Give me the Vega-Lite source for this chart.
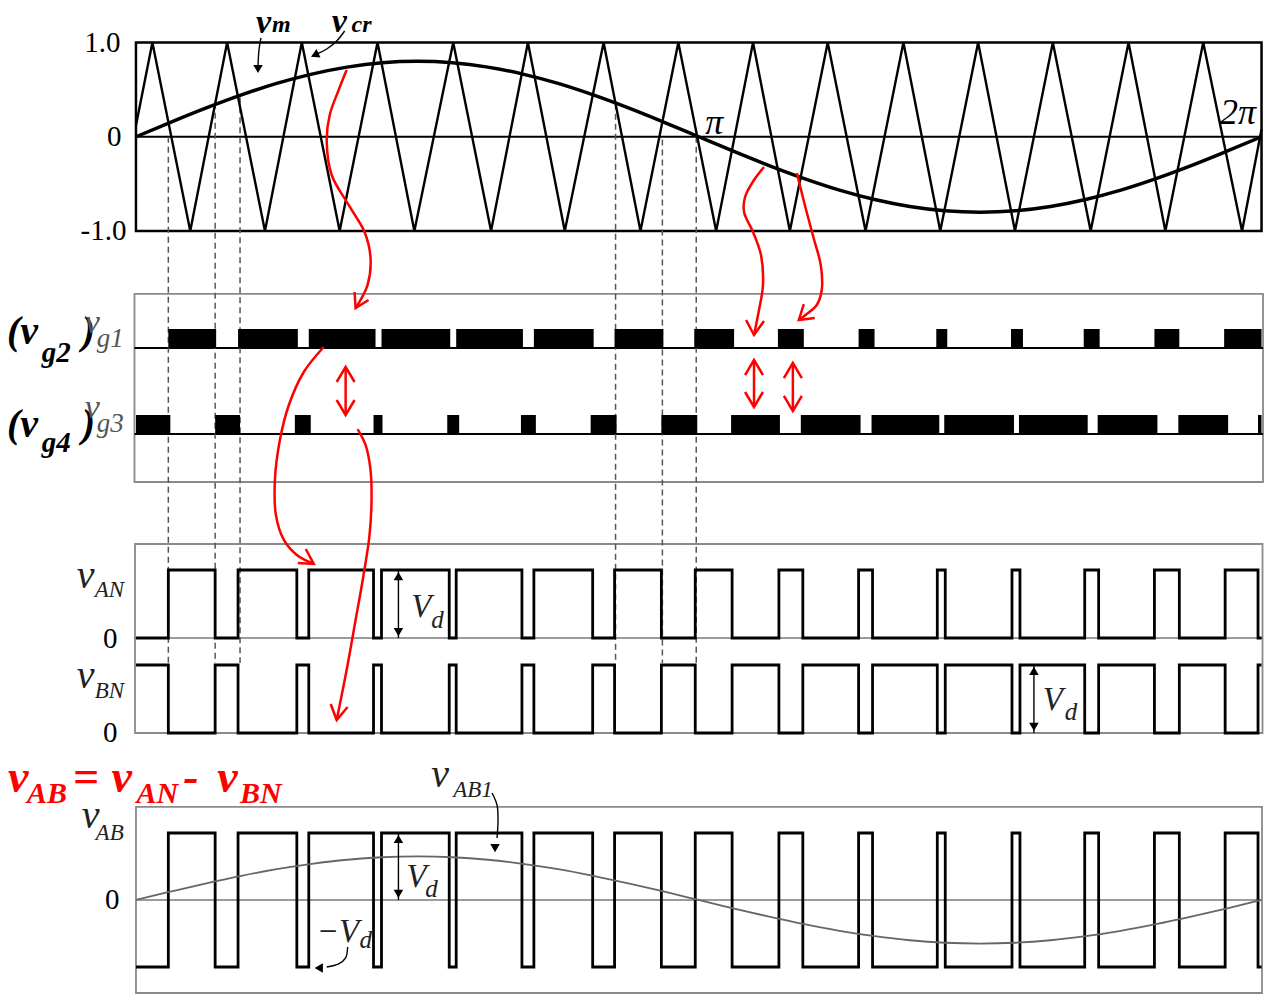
{
 "$schema": "https://vega.github.io/schema/vega-lite/v6.json",
 "width": 1269, "height": 995,
 "autosize": {"type": "fit", "contains": "padding"},
 "padding": 0,
 "background": "white",
 "config": {"view": {"stroke": null}, "text": {"font": "Liberation Serif, Times New Roman, serif"}},
 "resolve": {"scale": {"y": "independent"}},
 "datasets": {
  "frameTop": [{"t0": 0, "t1": 6.2832, "y0": -1, "y1": 1}],
  "frames": [
   {"t0": -0.0083, "t1": 6.2915, "y0": -1.668, "y1": -3.663},
   {"t0": -0.0055, "t1": 6.2887, "y0": -4.321, "y1": -6.326},
   {"t0": 0.0, "t1": 6.286, "y0": -7.111, "y1": -9.085}
  ],
  "rulesBlack": [
   {"t0": 0, "t1": 6.2832, "y": 0},
   {"t0": -0.0083, "t1": 6.2915, "y": -2.241},
   {"t0": -0.0083, "t1": 6.2915, "y": -3.154}
  ],
  "rulesGray": [
   {"t0": -0.0083, "t1": 6.2915, "y": -5.318},
   {"t0": 0, "t1": 6.2832, "y": -8.098}
  ],
  "dashed": [
   {"t": 0.1807, "y0": 0.0, "y1": -5.584},
   {"t": 0.442, "y0": 0.36, "y1": -5.584},
   {"t": 0.581, "y0": 0.42, "y1": -5.584},
   {"t": 2.6773, "y0": 0.35, "y1": -5.584},
   {"t": 2.9386, "y0": -0.03, "y1": -5.584},
   {"t": 3.1276, "y0": 0.0, "y1": -5.584}
  ],
  "carrier": [
   {"t": 0, "v": 0.12}, {"t": 0.0917, "v": 1}, {"t": 0.303, "v": -1}, {"t": 0.5088, "v": 1}, {"t": 0.7201, "v": -1},
   {"t": 0.9258, "v": 1}, {"t": 1.1371, "v": -1}, {"t": 1.3484, "v": 1}, {"t": 1.5541, "v": -1}, {"t": 1.771, "v": 1},
   {"t": 1.9822, "v": -1}, {"t": 2.188, "v": 1}, {"t": 2.3937, "v": -1}, {"t": 2.6106, "v": 1}, {"t": 2.8162, "v": -1},
   {"t": 3.0276, "v": 1}, {"t": 3.2388, "v": -1}, {"t": 3.4446, "v": 1}, {"t": 3.6502, "v": -1}, {"t": 3.8616, "v": 1},
   {"t": 4.0728, "v": -1}, {"t": 4.2842, "v": 1}, {"t": 4.4898, "v": -1}, {"t": 4.7012, "v": 1}, {"t": 4.9068, "v": -1},
   {"t": 5.1182, "v": 1}, {"t": 5.3294, "v": -1}, {"t": 5.5408, "v": 1}, {"t": 5.7464, "v": -1}, {"t": 5.9578, "v": 1},
   {"t": 6.1745, "v": -1}, {"t": 6.2832, "v": 0.08}
  ],
  "vm": [
   {"t": 0, "v": 0}, {"t": 0.1963, "v": 0.156}, {"t": 0.3927, "v": 0.306}, {"t": 0.589, "v": 0.444}, {"t": 0.7854, "v": 0.566},
   {"t": 0.9817, "v": 0.665}, {"t": 1.1781, "v": 0.739}, {"t": 1.3744, "v": 0.785}, {"t": 1.5708, "v": 0.8}, {"t": 1.7671, "v": 0.785},
   {"t": 1.9635, "v": 0.739}, {"t": 2.1598, "v": 0.665}, {"t": 2.3562, "v": 0.566}, {"t": 2.5525, "v": 0.444}, {"t": 2.7489, "v": 0.306},
   {"t": 2.9452, "v": 0.156}, {"t": 3.1416, "v": 0}, {"t": 3.3379, "v": -0.156}, {"t": 3.5343, "v": -0.306}, {"t": 3.7306, "v": -0.444},
   {"t": 3.927, "v": -0.566}, {"t": 4.1233, "v": -0.665}, {"t": 4.3197, "v": -0.739}, {"t": 4.516, "v": -0.785}, {"t": 4.7124, "v": -0.8},
   {"t": 4.9087, "v": -0.785}, {"t": 5.1051, "v": -0.739}, {"t": 5.3014, "v": -0.665}, {"t": 5.4978, "v": -0.566}, {"t": 5.6941, "v": -0.444},
   {"t": 5.8905, "v": -0.306}, {"t": 6.0868, "v": -0.156}, {"t": 6.2832, "v": 0}
  ],
  "vAB1": [
   {"t": 0, "v": 0}, {"t": 0.1963, "v": 0.127}, {"t": 0.3927, "v": 0.249}, {"t": 0.589, "v": 0.361}, {"t": 0.7854, "v": 0.46},
   {"t": 0.9817, "v": 0.54}, {"t": 1.1781, "v": 0.601}, {"t": 1.3744, "v": 0.638}, {"t": 1.5708, "v": 0.65}, {"t": 1.7671, "v": 0.638},
   {"t": 1.9635, "v": 0.601}, {"t": 2.1598, "v": 0.54}, {"t": 2.3562, "v": 0.46}, {"t": 2.5525, "v": 0.361}, {"t": 2.7489, "v": 0.249},
   {"t": 2.9452, "v": 0.127}, {"t": 3.1416, "v": 0}, {"t": 3.3379, "v": -0.127}, {"t": 3.5343, "v": -0.249}, {"t": 3.7306, "v": -0.361},
   {"t": 3.927, "v": -0.46}, {"t": 4.1233, "v": -0.54}, {"t": 4.3197, "v": -0.601}, {"t": 4.516, "v": -0.638}, {"t": 4.7124, "v": -0.65},
   {"t": 4.9087, "v": -0.638}, {"t": 5.1051, "v": -0.601}, {"t": 5.3014, "v": -0.54}, {"t": 5.4978, "v": -0.46}, {"t": 5.6941, "v": -0.361},
   {"t": 5.8905, "v": -0.249}, {"t": 6.0868, "v": -0.127}, {"t": 6.2832, "v": 0}
  ],
  "vg1": [
   {"t0": 0.1807, "t1": 0.4476}, {"t0": 0.5699, "t1": 0.9036}, {"t0": 0.9647, "t1": 1.3373}, {"t0": 1.3706, "t1": 1.7543},
   {"t0": 1.7876, "t1": 2.1601}, {"t0": 2.2213, "t1": 2.5549}, {"t0": 2.6717, "t1": 2.9441}, {"t0": 3.1165, "t1": 3.3389},
   {"t0": 3.5836, "t1": 3.7282}, {"t0": 4.0339, "t1": 4.1229}, {"t0": 4.4676, "t1": 4.5288}, {"t0": 4.8846, "t1": 4.9514},
   {"t0": 5.2906, "t1": 5.3795}, {"t0": 5.6853, "t1": 5.8243}, {"t0": 6.0745, "t1": 6.2832}
  ],
  "vg3": [
   {"t0": 0, "t1": 0.1918}, {"t0": 0.442, "t1": 0.581}, {"t0": 0.8869, "t1": 0.9758}, {"t0": 1.3261, "t1": 1.3762},
   {"t0": 1.7376, "t1": 1.8043}, {"t0": 2.149, "t1": 2.2324}, {"t0": 2.5382, "t1": 2.6828}, {"t0": 2.933, "t1": 3.1332},
   {"t0": 3.3222, "t1": 3.5947}, {"t0": 3.7114, "t1": 4.045}, {"t0": 4.1062, "t1": 4.4843}, {"t0": 4.5121, "t1": 4.9013},
   {"t0": 4.9291, "t1": 5.3128}, {"t0": 5.3684, "t1": 5.702}, {"t0": 5.8188, "t1": 6.0968}, {"t0": 6.2636, "t1": 6.2832}
  ],
  "vAN": [
   {"t": 0, "v": 0}, {"t": 0.1807, "v": 1}, {"t": 0.442, "v": 0}, {"t": 0.5699, "v": 1}, {"t": 0.898, "v": 0},
   {"t": 0.9647, "v": 1}, {"t": 1.3261, "v": 0}, {"t": 1.3706, "v": 1}, {"t": 1.7487, "v": 0}, {"t": 1.7876, "v": 1},
   {"t": 2.1546, "v": 0}, {"t": 2.2213, "v": 1}, {"t": 2.5494, "v": 0}, {"t": 2.6717, "v": 1}, {"t": 2.933, "v": 0},
   {"t": 3.1221, "v": 1}, {"t": 3.3278, "v": 0}, {"t": 3.5891, "v": 1}, {"t": 3.7226, "v": 0}, {"t": 4.0339, "v": 1},
   {"t": 4.1118, "v": 0}, {"t": 4.4732, "v": 1}, {"t": 4.5177, "v": 0}, {"t": 4.8902, "v": 1}, {"t": 4.9347, "v": 0},
   {"t": 5.2961, "v": 1}, {"t": 5.3739, "v": 0}, {"t": 5.6853, "v": 1}, {"t": 5.8243, "v": 0}, {"t": 6.0801, "v": 1},
   {"t": 6.2636, "v": 0}, {"t": 6.2832, "v": 0}
  ],
  "vBN": [
   {"t": 0, "v": 1}, {"t": 0.1807, "v": 0}, {"t": 0.442, "v": 1}, {"t": 0.5699, "v": 0}, {"t": 0.898, "v": 1},
   {"t": 0.9647, "v": 0}, {"t": 1.3261, "v": 1}, {"t": 1.3706, "v": 0}, {"t": 1.7487, "v": 1}, {"t": 1.7876, "v": 0},
   {"t": 2.1546, "v": 1}, {"t": 2.2213, "v": 0}, {"t": 2.5494, "v": 1}, {"t": 2.6717, "v": 0}, {"t": 2.933, "v": 1},
   {"t": 3.1221, "v": 0}, {"t": 3.3278, "v": 1}, {"t": 3.5891, "v": 0}, {"t": 3.7226, "v": 1}, {"t": 4.0339, "v": 0},
   {"t": 4.1118, "v": 1}, {"t": 4.4732, "v": 0}, {"t": 4.5177, "v": 1}, {"t": 4.8902, "v": 0}, {"t": 4.9347, "v": 1},
   {"t": 5.2961, "v": 0}, {"t": 5.3739, "v": 1}, {"t": 5.6853, "v": 0}, {"t": 5.8243, "v": 1}, {"t": 6.0801, "v": 0},
   {"t": 6.2636, "v": 1}, {"t": 6.2832, "v": 1}
  ],
  "vAB": [
   {"t": 0, "v": -1}, {"t": 0.1807, "v": 1}, {"t": 0.442, "v": -1}, {"t": 0.5699, "v": 1}, {"t": 0.898, "v": -1},
   {"t": 0.9647, "v": 1}, {"t": 1.3261, "v": -1}, {"t": 1.3706, "v": 1}, {"t": 1.7487, "v": -1}, {"t": 1.7876, "v": 1},
   {"t": 2.1546, "v": -1}, {"t": 2.2213, "v": 1}, {"t": 2.5494, "v": -1}, {"t": 2.6717, "v": 1}, {"t": 2.933, "v": -1},
   {"t": 3.1221, "v": 1}, {"t": 3.3278, "v": -1}, {"t": 3.5891, "v": 1}, {"t": 3.7226, "v": -1}, {"t": 4.0339, "v": 1},
   {"t": 4.1118, "v": -1}, {"t": 4.4732, "v": 1}, {"t": 4.5177, "v": -1}, {"t": 4.8902, "v": 1}, {"t": 4.9347, "v": -1},
   {"t": 5.2961, "v": 1}, {"t": 5.3739, "v": -1}, {"t": 5.6853, "v": 1}, {"t": 5.8243, "v": -1}, {"t": 6.0801, "v": 1},
   {"t": 6.2636, "v": -1}, {"t": 6.2832, "v": -1}
  ],
  "redCurves": [
   {"id": "r1", "o": 0, "t": 1.176, "y": 0.708}, {"id": "r1", "o": 1, "t": 1.1315, "y": 0.496}, {"id": "r1", "o": 2, "t": 1.0815, "y": 0.231},
   {"id": "r1", "o": 3, "t": 1.0648, "y": -0.034}, {"id": "r1", "o": 4, "t": 1.0926, "y": -0.406}, {"id": "r1", "o": 5, "t": 1.1871, "y": -0.724},
   {"id": "r1", "o": 6, "t": 1.2761, "y": -1.011}, {"id": "r1", "o": 7, "t": 1.3094, "y": -1.286}, {"id": "r1", "o": 8, "t": 1.2927, "y": -1.573},
   {"id": "r1", "o": 9, "t": 1.226, "y": -1.817},
   {"id": "r2", "o": 0, "t": 1.0481, "y": -2.231}, {"id": "r2", "o": 1, "t": 0.9369, "y": -2.496}, {"id": "r2", "o": 2, "t": 0.8535, "y": -2.846},
   {"id": "r2", "o": 3, "t": 0.8034, "y": -3.217}, {"id": "r2", "o": 4, "t": 0.7756, "y": -3.642}, {"id": "r2", "o": 5, "t": 0.7812, "y": -4.013},
   {"id": "r2", "o": 6, "t": 0.8257, "y": -4.278}, {"id": "r2", "o": 7, "t": 0.898, "y": -4.437}, {"id": "r2", "o": 8, "t": 0.9925, "y": -4.533},
   {"id": "r3", "o": 0, "t": 1.2371, "y": -3.101}, {"id": "r3", "o": 1, "t": 1.2816, "y": -3.27}, {"id": "r3", "o": 2, "t": 1.3094, "y": -3.536},
   {"id": "r3", "o": 3, "t": 1.315, "y": -3.854}, {"id": "r3", "o": 4, "t": 1.3039, "y": -4.225}, {"id": "r3", "o": 5, "t": 1.2705, "y": -4.65},
   {"id": "r3", "o": 6, "t": 1.226, "y": -5.127}, {"id": "r3", "o": 7, "t": 1.176, "y": -5.658}, {"id": "r3", "o": 8, "t": 1.1204, "y": -6.188},
   {"id": "r4", "o": 0, "t": 3.5057, "y": -0.321}, {"id": "r4", "o": 1, "t": 3.4501, "y": -0.459}, {"id": "r4", "o": 2, "t": 3.4001, "y": -0.639},
   {"id": "r4", "o": 3, "t": 3.3945, "y": -0.798}, {"id": "r4", "o": 4, "t": 3.4446, "y": -1.011}, {"id": "r4", "o": 5, "t": 3.489, "y": -1.255},
   {"id": "r4", "o": 6, "t": 3.5001, "y": -1.573}, {"id": "r4", "o": 7, "t": 3.4779, "y": -1.838}, {"id": "r4", "o": 8, "t": 3.4501, "y": -2.103},
   {"id": "r5", "o": 0, "t": 3.6892, "y": -0.385}, {"id": "r5", "o": 1, "t": 3.7337, "y": -0.724}, {"id": "r5", "o": 2, "t": 3.7828, "y": -1.074},
   {"id": "r5", "o": 3, "t": 3.8227, "y": -1.361}, {"id": "r5", "o": 4, "t": 3.8282, "y": -1.626}, {"id": "r5", "o": 5, "t": 3.8004, "y": -1.785},
   {"id": "r5", "o": 6, "t": 3.7447, "y": -1.881}, {"id": "r5", "o": 7, "t": 3.7004, "y": -1.944}
  ],
  "redStraight": [
   {"id": "h1", "o": 0, "t": 1.2983, "y": -1.732}, {"id": "h1", "o": 1, "t": 1.226, "y": -1.817}, {"id": "h1", "o": 2, "t": 1.2204, "y": -1.647},
   {"id": "h2", "o": 0, "t": 0.9036, "y": -4.523}, {"id": "h2", "o": 1, "t": 0.9925, "y": -4.533}, {"id": "h2", "o": 2, "t": 0.948, "y": -4.374},
   {"id": "h3", "o": 0, "t": 1.1816, "y": -6.05}, {"id": "h3", "o": 1, "t": 1.1204, "y": -6.188}, {"id": "h3", "o": 2, "t": 1.087, "y": -6.019},
   {"id": "h4", "o": 0, "t": 3.5057, "y": -1.955}, {"id": "h4", "o": 1, "t": 3.4501, "y": -2.103}, {"id": "h4", "o": 2, "t": 3.4056, "y": -1.944},
   {"id": "h5", "o": 0, "t": 3.7892, "y": -1.923}, {"id": "h5", "o": 1, "t": 3.7004, "y": -1.944}, {"id": "h5", "o": 2, "t": 3.7281, "y": -1.775},
   {"id": "d1s", "o": 0, "t": 1.1704, "y": -2.443}, {"id": "d1s", "o": 1, "t": 1.1704, "y": -2.952},
   {"id": "d1t", "o": 0, "t": 1.1204, "y": -2.602}, {"id": "d1t", "o": 1, "t": 1.1704, "y": -2.443}, {"id": "d1t", "o": 2, "t": 1.2205, "y": -2.602},
   {"id": "d1b", "o": 0, "t": 1.1204, "y": -2.793}, {"id": "d1b", "o": 1, "t": 1.1704, "y": -2.952}, {"id": "d1b", "o": 2, "t": 1.2205, "y": -2.793},
   {"id": "d2s", "o": 0, "t": 3.4501, "y": -2.369}, {"id": "d2s", "o": 1, "t": 3.4501, "y": -2.867},
   {"id": "d2t", "o": 0, "t": 3.4001, "y": -2.528}, {"id": "d2t", "o": 1, "t": 3.4501, "y": -2.369}, {"id": "d2t", "o": 2, "t": 3.5001, "y": -2.528},
   {"id": "d2b", "o": 0, "t": 3.4001, "y": -2.708}, {"id": "d2b", "o": 1, "t": 3.4501, "y": -2.867}, {"id": "d2b", "o": 2, "t": 3.5001, "y": -2.708},
   {"id": "d3s", "o": 0, "t": 3.667, "y": -2.4}, {"id": "d3s", "o": 1, "t": 3.667, "y": -2.91},
   {"id": "d3t", "o": 0, "t": 3.6169, "y": -2.56}, {"id": "d3t", "o": 1, "t": 3.667, "y": -2.4}, {"id": "d3t", "o": 2, "t": 3.717, "y": -2.56},
   {"id": "d3b", "o": 0, "t": 3.6169, "y": -2.75}, {"id": "d3b", "o": 1, "t": 3.667, "y": -2.91}, {"id": "d3b", "o": 2, "t": 3.717, "y": -2.75}
  ],
  "blackShafts": [
   {"id": "vm", "o": 0, "t": 0.6978, "y": 1.048}, {"id": "vm", "o": 1, "t": 0.6867, "y": 0.92}, {"id": "vm", "o": 2, "t": 0.6812, "y": 0.751},
   {"id": "vcr", "o": 0, "t": 1.1649, "y": 1.122}, {"id": "vcr", "o": 1, "t": 1.1204, "y": 1.016}, {"id": "vcr", "o": 2, "t": 1.0648, "y": 0.931}, {"id": "vcr", "o": 3, "t": 1.0092, "y": 0.878},
   {"id": "ab1", "o": 0, "t": 1.9877, "y": -6.963}, {"id": "ab1", "o": 1, "t": 2.0155, "y": -7.09}, {"id": "ab1", "o": 2, "t": 2.0211, "y": -7.249}, {"id": "ab1", "o": 3, "t": 2.0155, "y": -7.44},
   {"id": "nvd", "o": 0, "t": 1.1815, "y": -8.597}, {"id": "nvd", "o": 1, "t": 1.1704, "y": -8.713}, {"id": "nvd", "o": 2, "t": 1.1315, "y": -8.777}, {"id": "nvd", "o": 3, "t": 1.0648, "y": -8.809},
   {"id": "vd1", "o": 0, "t": 1.4651, "y": -4.597}, {"id": "vd1", "o": 1, "t": 1.4651, "y": -5.318},
   {"id": "vd2", "o": 0, "t": 5.0126, "y": -5.605}, {"id": "vd2", "o": 1, "t": 5.0126, "y": -6.326},
   {"id": "vd3", "o": 0, "t": 1.4651, "y": -7.387}, {"id": "vd3", "o": 1, "t": 1.4651, "y": -8.098}
  ],
  "headsDown": [
   {"t": 0.6812, "y": 0.719}, {"t": 2.0044, "y": -7.547}, {"t": 1.4651, "y": -5.255}, {"t": 5.0126, "y": -6.262}, {"t": 1.4651, "y": -8.034}
  ],
  "headsUp": [
   {"t": 1.4651, "y": -4.661}, {"t": 5.0126, "y": -5.668}, {"t": 1.4651, "y": -7.451}
  ],
  "headsLeft": [{"t": 1.0203, "y": -8.82}],
  "headVcr": [{"t": 0.9981, "y": 0.867}],
  "num": [
   {"t": -0.0862, "y": 1, "text": "1.0"}, {"t": -0.0806, "y": 0, "text": "0"}, {"t": -0.0528, "y": -1, "text": "-1.0"},
   {"t": -0.1029, "y": -5.329, "text": "0"}, {"t": -0.1029, "y": -6.326, "text": "0"}, {"t": -0.0917, "y": -8.098, "text": "0"}
  ],
  "pi": [{"t": 3.2279, "y": 0.146, "text": "π"}, {"t": 6.1525, "y": 0.252, "text": "2π"}],
  "vmV": [{"t": 0.67, "y": 1.101, "text": "v"}, {"t": 1.0926, "y": 1.111, "text": "v"}],
  "vmSub": [{"t": 0.759, "y": 1.111, "text": "m"}, {"t": 1.2038, "y": 1.111, "text": "cr"}],
  "gateBig": [
   {"t": -0.7201, "y": -2.199, "text": "(v"}, {"t": -0.303, "y": -2.199, "text": ")"},
   {"t": -0.7201, "y": -3.186, "text": "(v"}, {"t": -0.303, "y": -3.186, "text": ")"}
  ],
  "gateSub": [{"t": -0.5254, "y": -2.39, "text": "g2"}, {"t": -0.5254, "y": -3.345, "text": "g4"}],
  "grayV": [{"t": -0.2864, "y": -2.082, "text": "v"}, {"t": -0.2864, "y": -2.984, "text": "v"}],
  "graySub": [{"t": -0.2196, "y": -2.231, "text": "g1"}, {"t": -0.2196, "y": -3.133, "text": "g3"}],
  "sigV": [
   {"t": -0.3308, "y": -4.788, "text": "v"}, {"t": -0.3308, "y": -5.849, "text": "v"},
   {"t": -0.303, "y": -7.334, "text": "v"}, {"t": 1.6486, "y": -6.899, "text": "v"}
  ],
  "sigSub": [
   {"t": -0.2307, "y": -4.883, "text": "AN"}, {"t": -0.2307, "y": -5.955, "text": "BN"},
   {"t": -0.2252, "y": -7.461, "text": "AB"}, {"t": 1.7709, "y": -7.005, "text": "AB1"}
  ],
  "VdV": [
   {"t": 1.5374, "y": -5.095, "text": "V"}, {"t": 5.0626, "y": -6.082, "text": "V"},
   {"t": 1.5096, "y": -7.96, "text": "V"}, {"t": 1.0092, "y": -8.544, "text": "−V"}
  ],
  "VdSub": [
   {"t": 1.6486, "y": -5.212, "text": "d"}, {"t": 5.1849, "y": -6.188, "text": "d"},
   {"t": 1.6153, "y": -8.066, "text": "d"}, {"t": 1.2483, "y": -8.607, "text": "d"}
  ],
  "redBig": [
   {"t": -0.7145, "y": -6.952, "text": "v"}, {"t": -0.3531, "y": -6.952, "text": "="}, {"t": -0.1362, "y": -6.952, "text": "v"},
   {"t": 0.2641, "y": -6.952, "text": "-"}, {"t": 0.4531, "y": -6.952, "text": "v"}
  ],
  "redSub": [
   {"t": -0.6088, "y": -7.069, "text": "AB"}, {"t": 0.0028, "y": -7.069, "text": "AN"}, {"t": 0.581, "y": -7.069, "text": "BN"}
  ]
 },
 "layer": [
  {"data": {"name": "frameTop"}, "mark": {"type": "rect", "fillOpacity": 0, "stroke": "black", "strokeWidth": 2.5},
   "encoding": {"x": {"field": "t0", "type": "quantitative", "scale": {"domain": [-0.759, 6.297], "nice": false, "zero": false}, "axis": null}, "x2": {"field": "t1"},
    "y": {"field": "y0", "type": "quantitative", "scale": {"domain": [-9.106, 1.451], "nice": false, "zero": false}, "axis": null}, "y2": {"field": "y1"}}},
  {"data": {"name": "frames"}, "mark": {"type": "rect", "fillOpacity": 0, "stroke": "#8a8a8a", "strokeWidth": 1.8},
   "encoding": {"x": {"field": "t0", "type": "quantitative", "scale": {"domain": [-0.759, 6.297], "nice": false, "zero": false}, "axis": null}, "x2": {"field": "t1"},
    "y": {"field": "y0", "type": "quantitative", "scale": {"domain": [-9.106, 1.451], "nice": false, "zero": false}, "axis": null}, "y2": {"field": "y1"}}},
  {"data": {"name": "rulesGray"}, "mark": {"type": "rule", "color": "#7a7a7a", "strokeWidth": 1.5},
   "encoding": {"x": {"field": "t0", "type": "quantitative", "scale": {"domain": [-0.759, 6.297], "nice": false, "zero": false}, "axis": null}, "x2": {"field": "t1"},
    "y": {"field": "y", "type": "quantitative", "scale": {"domain": [-9.106, 1.451], "nice": false, "zero": false}, "axis": null}}},
  {"data": {"name": "rulesBlack"}, "mark": {"type": "rule", "color": "black", "strokeWidth": 2},
   "encoding": {"x": {"field": "t0", "type": "quantitative", "scale": {"domain": [-0.759, 6.297], "nice": false, "zero": false}, "axis": null}, "x2": {"field": "t1"},
    "y": {"field": "y", "type": "quantitative", "scale": {"domain": [-9.106, 1.451], "nice": false, "zero": false}, "axis": null}}},
  {"data": {"name": "dashed"}, "mark": {"type": "rule", "color": "#555555", "strokeWidth": 1.5, "strokeDash": [6, 4]},
   "encoding": {"x": {"field": "t", "type": "quantitative", "scale": {"domain": [-0.759, 6.297], "nice": false, "zero": false}, "axis": null},
    "y": {"field": "y0", "type": "quantitative", "scale": {"domain": [-9.106, 1.451], "nice": false, "zero": false}, "axis": null}, "y2": {"field": "y1"}}},
  {"data": {"name": "carrier"}, "mark": {"type": "line", "color": "black", "strokeWidth": 2.4},
   "encoding": {"x": {"field": "t", "type": "quantitative", "scale": {"domain": [-0.759, 6.297], "nice": false, "zero": false}, "axis": null},
    "y": {"field": "v", "type": "quantitative", "scale": {"domain": [-9.106, 1.451], "nice": false, "zero": false}, "axis": null}}},
  {"data": {"name": "vm"}, "mark": {"type": "line", "color": "black", "strokeWidth": 3.5, "interpolate": "monotone"},
   "encoding": {"x": {"field": "t", "type": "quantitative", "scale": {"domain": [-0.759, 6.297], "nice": false, "zero": false}, "axis": null},
    "y": {"field": "v", "type": "quantitative", "scale": {"domain": [-9.106, 1.451], "nice": false, "zero": false}, "axis": null}}},
  {"data": {"name": "vg1"}, "mark": {"type": "rect", "color": "black"},
   "encoding": {"x": {"field": "t0", "type": "quantitative", "scale": {"domain": [-0.759, 6.297], "nice": false, "zero": false}, "axis": null}, "x2": {"field": "t1"},
    "y": {"datum": 0, "type": "quantitative", "scale": {"domain": [-34.053, 18.316], "nice": false, "zero": false}, "axis": null}, "y2": {"datum": 1}}},
  {"data": {"name": "vg3"}, "mark": {"type": "rect", "color": "black"},
   "encoding": {"x": {"field": "t0", "type": "quantitative", "scale": {"domain": [-0.759, 6.297], "nice": false, "zero": false}, "axis": null}, "x2": {"field": "t1"},
    "y": {"datum": 0, "type": "quantitative", "scale": {"domain": [-29.526, 22.842], "nice": false, "zero": false}, "axis": null}, "y2": {"datum": 1}}},
  {"data": {"name": "vAN"}, "mark": {"type": "line", "color": "black", "strokeWidth": 2.8, "interpolate": "step-after"},
   "encoding": {"x": {"field": "t", "type": "quantitative", "scale": {"domain": [-0.759, 6.297], "nice": false, "zero": false}, "axis": null},
    "y": {"field": "v", "type": "quantitative", "scale": {"domain": [-5.25, 9.382], "nice": false, "zero": false}, "axis": null}}},
  {"data": {"name": "vBN"}, "mark": {"type": "line", "color": "black", "strokeWidth": 2.8, "interpolate": "step-after"},
   "encoding": {"x": {"field": "t", "type": "quantitative", "scale": {"domain": [-0.759, 6.297], "nice": false, "zero": false}, "axis": null},
    "y": {"field": "v", "type": "quantitative", "scale": {"domain": [-3.853, 10.779], "nice": false, "zero": false}, "axis": null}}},
  {"data": {"name": "vAB"}, "mark": {"type": "line", "color": "black", "strokeWidth": 2.8, "interpolate": "step-after"},
   "encoding": {"x": {"field": "t", "type": "quantitative", "scale": {"domain": [-0.759, 6.297], "nice": false, "zero": false}, "axis": null},
    "y": {"field": "v", "type": "quantitative", "scale": {"domain": [-1.418, 13.433], "nice": false, "zero": false}, "axis": null}}},
  {"data": {"name": "vAB1"}, "mark": {"type": "line", "color": "#666666", "strokeWidth": 1.8, "interpolate": "monotone"},
   "encoding": {"x": {"field": "t", "type": "quantitative", "scale": {"domain": [-0.759, 6.297], "nice": false, "zero": false}, "axis": null},
    "y": {"field": "v", "type": "quantitative", "scale": {"domain": [-1.418, 13.433], "nice": false, "zero": false}, "axis": null}}},
  {"data": {"name": "redCurves"}, "mark": {"type": "line", "color": "#ff0000", "strokeWidth": 2.5, "interpolate": "catmull-rom"},
   "encoding": {"x": {"field": "t", "type": "quantitative", "scale": {"domain": [-0.759, 6.297], "nice": false, "zero": false}, "axis": null},
    "y": {"field": "y", "type": "quantitative", "scale": {"domain": [-9.106, 1.451], "nice": false, "zero": false}, "axis": null},
    "detail": {"field": "id"}, "order": {"field": "o", "type": "quantitative"}}},
  {"data": {"name": "redStraight"}, "mark": {"type": "line", "color": "#ff0000", "strokeWidth": 2.5},
   "encoding": {"x": {"field": "t", "type": "quantitative", "scale": {"domain": [-0.759, 6.297], "nice": false, "zero": false}, "axis": null},
    "y": {"field": "y", "type": "quantitative", "scale": {"domain": [-9.106, 1.451], "nice": false, "zero": false}, "axis": null},
    "detail": {"field": "id"}, "order": {"field": "o", "type": "quantitative"}}},
  {"data": {"name": "blackShafts"}, "mark": {"type": "line", "color": "black", "strokeWidth": 1.4, "interpolate": "catmull-rom"},
   "encoding": {"x": {"field": "t", "type": "quantitative", "scale": {"domain": [-0.759, 6.297], "nice": false, "zero": false}, "axis": null},
    "y": {"field": "y", "type": "quantitative", "scale": {"domain": [-9.106, 1.451], "nice": false, "zero": false}, "axis": null},
    "detail": {"field": "id"}, "order": {"field": "o", "type": "quantitative"}}},
  {"data": {"name": "headsDown"}, "mark": {"type": "point", "shape": "triangle-down", "filled": true, "color": "black", "size": 90, "opacity": 1},
   "encoding": {"x": {"field": "t", "type": "quantitative", "scale": {"domain": [-0.759, 6.297], "nice": false, "zero": false}, "axis": null},
    "y": {"field": "y", "type": "quantitative", "scale": {"domain": [-9.106, 1.451], "nice": false, "zero": false}, "axis": null}}},
  {"data": {"name": "headsUp"}, "mark": {"type": "point", "shape": "triangle-up", "filled": true, "color": "black", "size": 90, "opacity": 1},
   "encoding": {"x": {"field": "t", "type": "quantitative", "scale": {"domain": [-0.759, 6.297], "nice": false, "zero": false}, "axis": null},
    "y": {"field": "y", "type": "quantitative", "scale": {"domain": [-9.106, 1.451], "nice": false, "zero": false}, "axis": null}}},
  {"data": {"name": "headsLeft"}, "mark": {"type": "point", "shape": "triangle-left", "filled": true, "color": "black", "size": 90, "opacity": 1},
   "encoding": {"x": {"field": "t", "type": "quantitative", "scale": {"domain": [-0.759, 6.297], "nice": false, "zero": false}, "axis": null},
    "y": {"field": "y", "type": "quantitative", "scale": {"domain": [-9.106, 1.451], "nice": false, "zero": false}, "axis": null}}},
  {"data": {"name": "headVcr"}, "mark": {"type": "point", "shape": "triangle-left", "filled": true, "color": "black", "size": 90, "opacity": 1, "angle": 335},
   "encoding": {"x": {"field": "t", "type": "quantitative", "scale": {"domain": [-0.759, 6.297], "nice": false, "zero": false}, "axis": null},
    "y": {"field": "y", "type": "quantitative", "scale": {"domain": [-9.106, 1.451], "nice": false, "zero": false}, "axis": null}}},
  {"data": {"name": "num"}, "mark": {"type": "text", "fontSize": 29, "align": "right", "baseline": "middle", "color": "black"},
   "encoding": {"x": {"field": "t", "type": "quantitative", "scale": {"domain": [-0.759, 6.297], "nice": false, "zero": false}, "axis": null},
    "y": {"field": "y", "type": "quantitative", "scale": {"domain": [-9.106, 1.451], "nice": false, "zero": false}, "axis": null}, "text": {"field": "text"}}},
  {"data": {"name": "pi"}, "mark": {"type": "text", "fontSize": 36, "fontStyle": "italic", "align": "center", "baseline": "middle", "color": "black"},
   "encoding": {"x": {"field": "t", "type": "quantitative", "scale": {"domain": [-0.759, 6.297], "nice": false, "zero": false}, "axis": null},
    "y": {"field": "y", "type": "quantitative", "scale": {"domain": [-9.106, 1.451], "nice": false, "zero": false}, "axis": null}, "text": {"field": "text"}}},
  {"data": {"name": "vmV"}, "mark": {"type": "text", "fontSize": 34, "fontStyle": "italic", "fontWeight": "bold", "align": "left", "baseline": "alphabetic", "color": "black"},
   "encoding": {"x": {"field": "t", "type": "quantitative", "scale": {"domain": [-0.759, 6.297], "nice": false, "zero": false}, "axis": null},
    "y": {"field": "y", "type": "quantitative", "scale": {"domain": [-9.106, 1.451], "nice": false, "zero": false}, "axis": null}, "text": {"field": "text"}}},
  {"data": {"name": "vmSub"}, "mark": {"type": "text", "fontSize": 24, "fontStyle": "italic", "fontWeight": "bold", "align": "left", "baseline": "alphabetic", "color": "black"},
   "encoding": {"x": {"field": "t", "type": "quantitative", "scale": {"domain": [-0.759, 6.297], "nice": false, "zero": false}, "axis": null},
    "y": {"field": "y", "type": "quantitative", "scale": {"domain": [-9.106, 1.451], "nice": false, "zero": false}, "axis": null}, "text": {"field": "text"}}},
  {"data": {"name": "gateBig"}, "mark": {"type": "text", "fontSize": 40, "fontStyle": "italic", "fontWeight": "bold", "align": "left", "baseline": "alphabetic", "color": "black"},
   "encoding": {"x": {"field": "t", "type": "quantitative", "scale": {"domain": [-0.759, 6.297], "nice": false, "zero": false}, "axis": null},
    "y": {"field": "y", "type": "quantitative", "scale": {"domain": [-9.106, 1.451], "nice": false, "zero": false}, "axis": null}, "text": {"field": "text"}}},
  {"data": {"name": "gateSub"}, "mark": {"type": "text", "fontSize": 29, "fontStyle": "italic", "fontWeight": "bold", "align": "left", "baseline": "alphabetic", "color": "black"},
   "encoding": {"x": {"field": "t", "type": "quantitative", "scale": {"domain": [-0.759, 6.297], "nice": false, "zero": false}, "axis": null},
    "y": {"field": "y", "type": "quantitative", "scale": {"domain": [-9.106, 1.451], "nice": false, "zero": false}, "axis": null}, "text": {"field": "text"}}},
  {"data": {"name": "grayV"}, "mark": {"type": "text", "fontSize": 34, "fontStyle": "italic", "align": "left", "baseline": "alphabetic", "color": "#555555"},
   "encoding": {"x": {"field": "t", "type": "quantitative", "scale": {"domain": [-0.759, 6.297], "nice": false, "zero": false}, "axis": null},
    "y": {"field": "y", "type": "quantitative", "scale": {"domain": [-9.106, 1.451], "nice": false, "zero": false}, "axis": null}, "text": {"field": "text"}}},
  {"data": {"name": "graySub"}, "mark": {"type": "text", "fontSize": 27, "fontStyle": "italic", "align": "left", "baseline": "alphabetic", "color": "#555555"},
   "encoding": {"x": {"field": "t", "type": "quantitative", "scale": {"domain": [-0.759, 6.297], "nice": false, "zero": false}, "axis": null},
    "y": {"field": "y", "type": "quantitative", "scale": {"domain": [-9.106, 1.451], "nice": false, "zero": false}, "axis": null}, "text": {"field": "text"}}},
  {"data": {"name": "sigV"}, "mark": {"type": "text", "fontSize": 40, "fontStyle": "italic", "align": "left", "baseline": "alphabetic", "color": "#222222"},
   "encoding": {"x": {"field": "t", "type": "quantitative", "scale": {"domain": [-0.759, 6.297], "nice": false, "zero": false}, "axis": null},
    "y": {"field": "y", "type": "quantitative", "scale": {"domain": [-9.106, 1.451], "nice": false, "zero": false}, "axis": null}, "text": {"field": "text"}}},
  {"data": {"name": "sigSub"}, "mark": {"type": "text", "fontSize": 23, "fontStyle": "italic", "align": "left", "baseline": "alphabetic", "color": "#222222"},
   "encoding": {"x": {"field": "t", "type": "quantitative", "scale": {"domain": [-0.759, 6.297], "nice": false, "zero": false}, "axis": null},
    "y": {"field": "y", "type": "quantitative", "scale": {"domain": [-9.106, 1.451], "nice": false, "zero": false}, "axis": null}, "text": {"field": "text"}}},
  {"data": {"name": "VdV"}, "mark": {"type": "text", "fontSize": 33, "fontStyle": "italic", "align": "left", "baseline": "alphabetic", "color": "#222222"},
   "encoding": {"x": {"field": "t", "type": "quantitative", "scale": {"domain": [-0.759, 6.297], "nice": false, "zero": false}, "axis": null},
    "y": {"field": "y", "type": "quantitative", "scale": {"domain": [-9.106, 1.451], "nice": false, "zero": false}, "axis": null}, "text": {"field": "text"}}},
  {"data": {"name": "VdSub"}, "mark": {"type": "text", "fontSize": 25, "fontStyle": "italic", "align": "left", "baseline": "alphabetic", "color": "#222222"},
   "encoding": {"x": {"field": "t", "type": "quantitative", "scale": {"domain": [-0.759, 6.297], "nice": false, "zero": false}, "axis": null},
    "y": {"field": "y", "type": "quantitative", "scale": {"domain": [-9.106, 1.451], "nice": false, "zero": false}, "axis": null}, "text": {"field": "text"}}},
  {"data": {"name": "redBig"}, "mark": {"type": "text", "fontSize": 46, "fontStyle": "italic", "fontWeight": "bold", "align": "left", "baseline": "alphabetic", "color": "#ff0000"},
   "encoding": {"x": {"field": "t", "type": "quantitative", "scale": {"domain": [-0.759, 6.297], "nice": false, "zero": false}, "axis": null},
    "y": {"field": "y", "type": "quantitative", "scale": {"domain": [-9.106, 1.451], "nice": false, "zero": false}, "axis": null}, "text": {"field": "text"}}},
  {"data": {"name": "redSub"}, "mark": {"type": "text", "fontSize": 30, "fontStyle": "italic", "fontWeight": "bold", "align": "left", "baseline": "alphabetic", "color": "#ff0000"},
   "encoding": {"x": {"field": "t", "type": "quantitative", "scale": {"domain": [-0.759, 6.297], "nice": false, "zero": false}, "axis": null},
    "y": {"field": "y", "type": "quantitative", "scale": {"domain": [-9.106, 1.451], "nice": false, "zero": false}, "axis": null}, "text": {"field": "text"}}}
 ]
}
